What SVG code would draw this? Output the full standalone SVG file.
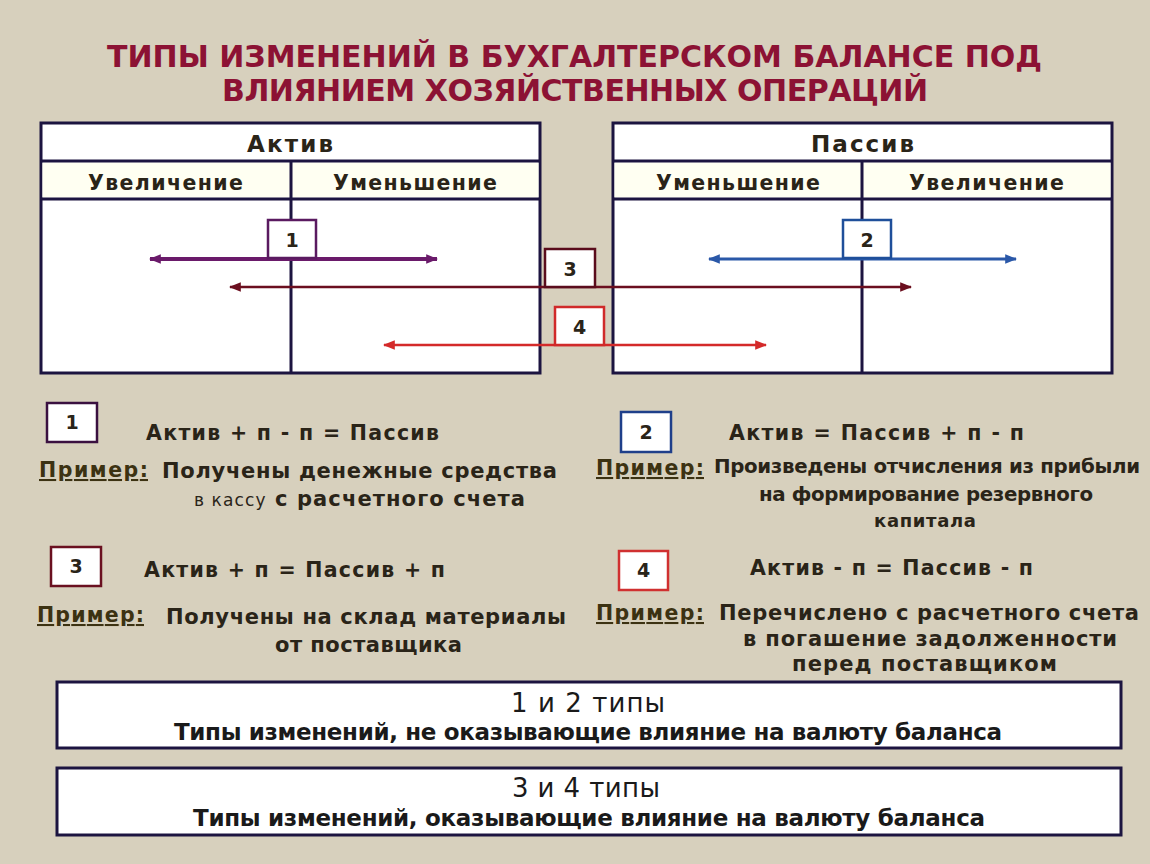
<svg xmlns="http://www.w3.org/2000/svg" width="1150" height="864" viewBox="0 0 1150 864">
<defs>
<style>
.t{font-family:"DejaVu Sans","Noto Sans",sans-serif;font-weight:bold;fill:#2a2418}
.title{font-family:"DejaVu Sans","Noto Sans",sans-serif;font-weight:bold;font-size:30px;fill:#8c1234}
.hd{font-size:23px}
.sub{font-size:20.5px}
.num{font-size:19px;text-anchor:middle}
.f{font-size:20.5px}
.ex{font-size:21px}
.ex2{font-size:19.8px}
.pr{font-size:20.5px;fill:#3c3212;text-decoration:underline}
.tab{fill:#ffffff;stroke:#1c1440;stroke-width:3}
.ln{stroke:#1c1440;stroke-width:3;fill:none}
.nb{fill:#ffffff;stroke-width:2.5}
.bot{font-family:"DejaVu Sans","Noto Sans",sans-serif;fill:#1a1a1a}
</style>
<marker id="m1" viewBox="0 0 10 8" refX="9" refY="4" markerWidth="12" markerHeight="10" markerUnits="userSpaceOnUse" orient="auto-start-reverse"><path d="M0,0 L10,4 L0,8 z" fill="#6a1a6a"/></marker>
<marker id="m2" viewBox="0 0 10 8" refX="9" refY="4" markerWidth="12" markerHeight="10" markerUnits="userSpaceOnUse" orient="auto-start-reverse"><path d="M0,0 L10,4 L0,8 z" fill="#2a58a8"/></marker>
<marker id="m3" viewBox="0 0 10 8" refX="9" refY="4" markerWidth="12" markerHeight="10" markerUnits="userSpaceOnUse" orient="auto-start-reverse"><path d="M0,0 L10,4 L0,8 z" fill="#6b0f1f"/></marker>
<marker id="m4" viewBox="0 0 10 8" refX="9" refY="4" markerWidth="12" markerHeight="10" markerUnits="userSpaceOnUse" orient="auto-start-reverse"><path d="M0,0 L10,4 L0,8 z" fill="#d42a2a"/></marker>
</defs>
<rect x="0" y="0" width="1150" height="864" fill="#d7d0bd"/>

<g id="title">
<text class="title" x="107" y="67" textLength="935" lengthAdjust="spacing">ТИПЫ ИЗМЕНЕНИЙ В БУХГАЛТЕРСКОМ БАЛАНСЕ ПОД</text>
<text class="title" x="222" y="101" textLength="706" lengthAdjust="spacing">ВЛИЯНИЕМ ХОЗЯЙСТВЕННЫХ ОПЕРАЦИЙ</text>
</g>

<g id="aktiv">
<rect class="tab" x="41" y="123" width="499" height="250"/>
<rect x="42.5" y="162.5" width="496" height="35" fill="#fffff2"/>
<path class="ln" d="M41,161 H540 M41,199 H540 M291,161 V373"/>
<text class="t hd" x="247" y="152" textLength="86" lengthAdjust="spacing">Актив</text>
<text class="t sub" x="88" y="190" textLength="155" lengthAdjust="spacing">Увеличение</text>
<text class="t sub" x="333" y="190" textLength="164" lengthAdjust="spacing">Уменьшение</text>
</g>

<g id="passiv">
<rect class="tab" x="613" y="123" width="499" height="250"/>
<rect x="614.5" y="162.5" width="496" height="35" fill="#fffff2"/>
<path class="ln" d="M613,161 H1112 M613,199 H1112 M862,161 V373"/>
<text class="t hd" x="811" y="152" textLength="103" lengthAdjust="spacing">Пассив</text>
<text class="t sub" x="656" y="190" textLength="164" lengthAdjust="spacing">Уменьшение</text>
<text class="t sub" x="909" y="190" textLength="155" lengthAdjust="spacing">Увеличение</text>
</g>

<g id="connectors" fill="none">
<line x1="150" y1="259" x2="437" y2="259" stroke="#6a1a6a" stroke-width="4" marker-start="url(#m1)" marker-end="url(#m1)"/>
<line x1="709" y1="259" x2="1016" y2="259" stroke="#2a58a8" stroke-width="3" marker-start="url(#m2)" marker-end="url(#m2)"/>
<line x1="230" y1="287" x2="911" y2="287" stroke="#6b0f1f" stroke-width="2.5" marker-start="url(#m3)" marker-end="url(#m3)"/>
<line x1="384" y1="345" x2="766" y2="345" stroke="#d42a2a" stroke-width="2.5" marker-start="url(#m4)" marker-end="url(#m4)"/>
</g>

<g id="n1">
<rect class="nb" x="268" y="220" width="48" height="38" stroke="#5a1a60"/>
<text class="t num" x="292" y="247">1</text>
</g>
<g id="n2">
<rect class="nb" x="843" y="220" width="48" height="38" stroke="#1f4f9a"/>
<text class="t num" x="867" y="247">2</text>
</g>
<g id="n3">
<rect class="nb" x="545" y="249" width="50" height="38" stroke="#5a0c1c"/>
<text class="t num" x="570" y="276">3</text>
</g>
<g id="n4">
<rect class="nb" x="555" y="307" width="49" height="38" stroke="#d02a2a"/>
<text class="t num" x="579.5" y="334">4</text>
</g>

<g id="legend1">
<rect class="nb" x="47" y="403" width="50" height="39" stroke="#3a1040"/>
<text class="t num" x="72" y="429">1</text>
<text class="t f" x="146" y="440" textLength="293" lengthAdjust="spacing">Актив + п - п = Пассив</text>
<text class="t pr" x="39" y="477" textLength="109" lengthAdjust="spacing">Пример:</text>
<text class="t ex" x="162" y="478" textLength="395" lengthAdjust="spacing">Получены денежные средства</text>
<text class="t ex" x="194" y="506" textLength="331" lengthAdjust="spacing"><tspan style="font-size:17px;font-weight:normal">в кассу</tspan> с расчетного счета</text>
</g>

<g id="legend2">
<rect class="nb" x="621" y="412" width="50" height="40" stroke="#1f3f8a"/>
<text class="t num" x="646" y="439">2</text>
<text class="t f" x="729" y="440" textLength="295" lengthAdjust="spacing">Актив = Пассив + п - п</text>
<text class="t pr" x="596" y="475" textLength="108" lengthAdjust="spacing">Пример:</text>
<text class="t ex2" x="714" y="473" textLength="426" lengthAdjust="spacing">Произведены отчисления из прибыли</text>
<text class="t ex2" x="759" y="501" textLength="334" lengthAdjust="spacing">на формирование резервного</text>
<text class="t ex2" x="874" y="527" style="font-size:18px" textLength="102" lengthAdjust="spacing">капитала</text>
</g>

<g id="legend3">
<rect class="nb" x="51" y="547" width="50" height="39" stroke="#6a1020"/>
<text class="t num" x="76" y="573">3</text>
<text class="t f" x="144" y="577" textLength="301" lengthAdjust="spacing">Актив + п = Пассив + п</text>
<text class="t pr" x="37" y="622" textLength="107" lengthAdjust="spacing">Пример:</text>
<text class="t ex" x="166" y="624" textLength="400" lengthAdjust="spacing">Получены на склад материалы</text>
<text class="t ex" x="275" y="652" textLength="187" lengthAdjust="spacing">от поставщика</text>
</g>

<g id="legend4">
<rect class="nb" x="619" y="551" width="49" height="39" stroke="#d03030"/>
<text class="t num" x="643.5" y="577">4</text>
<text class="t f" x="750" y="575" textLength="283" lengthAdjust="spacing">Актив - п = Пассив - п</text>
<text class="t pr" x="596" y="620" textLength="108" lengthAdjust="spacing">Пример:</text>
<text class="t ex" x="719" y="620" textLength="420" lengthAdjust="spacing">Перечислено с расчетного счета</text>
<text class="t ex" x="743" y="646" textLength="374" lengthAdjust="spacing">в погашение задолженности</text>
<text class="t ex" x="792" y="671" textLength="265" lengthAdjust="spacing">перед поставщиком</text>
</g>

<g id="summary12">
<rect class="tab" x="57" y="682" width="1064" height="66"/>
<text class="bot" x="511" y="712" font-size="26" textLength="154" lengthAdjust="spacing">1 и 2 типы</text>
<text class="bot" x="174" y="740" font-size="23" font-weight="bold" textLength="828" lengthAdjust="spacing">Типы изменений, не оказывающие влияние на валюту баланса</text>
</g>

<g id="summary34">
<rect class="tab" x="57" y="768" width="1064" height="67"/>
<text class="bot" x="512" y="797" font-size="26" textLength="148" lengthAdjust="spacing">3 и 4 типы</text>
<text class="bot" x="193" y="826" font-size="23" font-weight="bold" textLength="792" lengthAdjust="spacing">Типы изменений, оказывающие влияние на валюту баланса</text>
</g>
</svg>
